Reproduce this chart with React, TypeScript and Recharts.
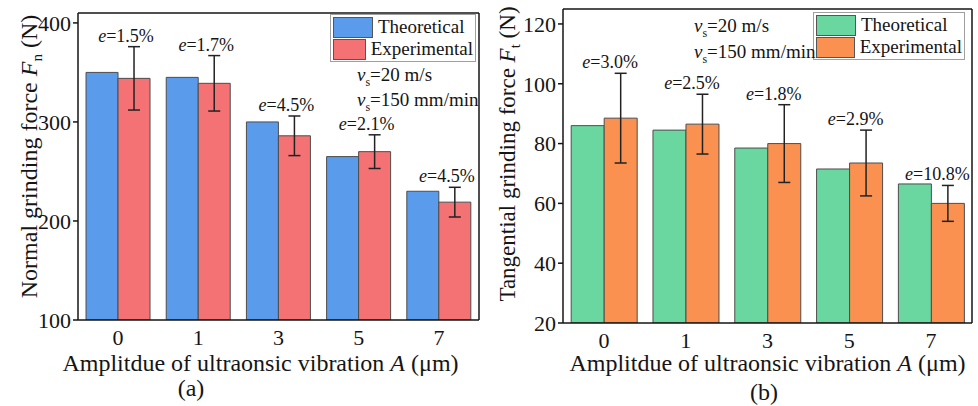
import React from "react";
import {
  BarChart,
  Bar,
  XAxis,
  YAxis,
  ErrorBar,
  LabelList,
  Legend,
  ReferenceLine,
} from "recharts";

const amplitudes = ["0", "1", "3", "5", "7"];
const seriesNames = ["Theoretical", "Experimental"];

// (a) normal grinding force, N
const fnTheory = [350, 345, 300, 265, 230];
const fnExp = [344, 339, 286, 270, 219];
const fnErr = [32, 28, 20, 17, 15];
const fnDev = ["1.5%", "1.7%", "4.5%", "2.1%", "4.5%"];
const fnTicks = [100, 200, 300, 400];

// (b) tangential grinding force, N
const ftTheory = [86, 84.5, 78.5, 71.5, 66.5];
const ftExp = [88.5, 86.5, 80, 73.5, 60];
const ftErr = [15, 10, 13, 11, 6];
const ftDev = ["3.0%", "2.5%", "1.8%", "2.9%", "10.8%"];
const ftTicks = [20, 40, 60, 80, 100, 120];

const SERIF = '"Liberation Serif", "Times New Roman", serif';
const INK = "#151515";

// deviation label sits just above the top of each error bar
const devLabel =
  (dev: string[], err: number[], min: number, dx: number) => (props: any) => {
    const { x, y, height, value, index } = props;
    const pxPerUnit = Math.abs(height) / (value - min);
    const top = y - err[index] * pxPerUnit;
    return (
      <text
        x={x + dx}
        y={top - 5}
        textAnchor="middle"
        fontSize={18}
        fontFamily={SERIF}
        fill={INK}
      >
        <tspan fontStyle="italic">e</tspan>
        <tspan>={dev[index]}</tspan>
      </text>
    );
  };

const BoxLegend = ({ payload }: any) => {
  const items = [...(payload || [])].sort(
    (a: any, b: any) => seriesNames.indexOf(a.value) - seriesNames.indexOf(b.value)
  );
  return (
    <div
      style={{
        border: "1px solid #a0a0a0",
        background: "#fff",
        padding: "1px 2px",
        fontFamily: SERIF,
        fontSize: 19,
        color: INK,
      }}
    >
      {items.map((p: any) => (
        <div
          key={p.value}
          style={{ display: "flex", alignItems: "center", height: 22 }}
        >
          <span
            style={{
              display: "inline-block",
              width: 38,
              height: 19,
              background: p.color,
              border: "1px solid #555",
              marginRight: 5,
            }}
          />
          {p.value}
        </div>
      ))}
    </div>
  );
};

const yTitle =
  (main: string, sub: string, size: number, dx: number, dy: number) =>
  (props: any) => {
    const { viewBox } = props;
    const cx = viewBox.x + dx;
    const cy = viewBox.y + viewBox.height / 2 + dy;
    return (
      <text
        x={cx}
        y={cy}
        transform={`rotate(-90, ${cx}, ${cy})`}
        textAnchor="middle"
        fontSize={size}
        fontFamily={SERIF}
        fill={INK}
      >
        <tspan>{main} </tspan>
        <tspan fontStyle="italic">F</tspan>
        <tspan fontSize={15} dy={5}>
          {sub}
        </tspan>
        <tspan dy={-5}> (N)</tspan>
      </text>
    );
  };

const xTitle = (dx: number, y: number) => (props: any) => {
  const { viewBox } = props;
  const cx = viewBox.x + viewBox.width / 2 + dx;
  return (
    <text
      x={cx}
      y={y}
      textAnchor="middle"
      fontSize={24}
      fontFamily={SERIF}
      fill={INK}
    >
      <tspan>Amplitdue of ultraonsic vibration </tspan>
      <tspan fontStyle="italic">A</tspan>
      <tspan> (μm)</tspan>
    </text>
  );
};

interface PanelProps {
  theory: number[];
  exp: number[];
  err: number[];
  dev: string[];
  ticks: number[];
  domain: [number, number];
  colors: [string, string];
  title: string;
  sub: string;
  titleSize: number;
  width: number;
  margin: { top: number; right: number; bottom: number; left: number };
  yTitleOffset: [number, number];
  xTitleOffset: [number, number];
  labelDx: number;
  legendPos: { left: number; top: number; width: number };
}

function ForcePanel(p: PanelProps) {
  const data = amplitudes.map((a, i) => ({
    amp: a,
    theory: p.theory[i],
    exp: p.exp[i],
    err: p.err[i],
  }));
  const tickStyle = { fontSize: 22, fontFamily: SERIF, fill: INK };
  const axisLine = { stroke: INK, strokeWidth: 1.5 };

  return (
    <BarChart
      width={p.width}
      height={406}
      data={data}
      margin={p.margin}
      barCategoryGap="10%"
      barGap={0}
    >
      <XAxis
        dataKey="amp"
        tickLine={false}
        axisLine={axisLine}
        tick={tickStyle}
        tickSize={0}
        tickMargin={9}
        height={40}
        label={{ content: xTitle(p.xTitleOffset[0], p.xTitleOffset[1]) }}
      />
      <YAxis
        domain={p.domain}
        ticks={p.ticks}
        allowDataOverflow
        width={60}
        tick={tickStyle}
        tickSize={5}
        tickMargin={2}
        tickLine={{ stroke: INK, strokeWidth: 1.5 }}
        axisLine={axisLine}
        label={{
          content: yTitle(
            p.title,
            p.sub,
            p.titleSize,
            p.yTitleOffset[0],
            p.yTitleOffset[1]
          ),
        }}
      />
      <YAxis
        yAxisId="right"
        orientation="right"
        mirror
        domain={p.domain}
        ticks={p.ticks}
        allowDataOverflow
        width={6}
        tick={false}
        tickSize={5}
        tickLine={{ stroke: INK, strokeWidth: 1.5 }}
        axisLine={axisLine}
      />
      <ReferenceLine y={p.domain[1]} stroke={INK} strokeWidth={1.5} />
      <Legend
        layout="vertical"
        align="center"
        verticalAlign="middle"
        wrapperStyle={p.legendPos}
        content={<BoxLegend />}
      />
      <Bar
        dataKey="theory"
        name={seriesNames[0]}
        fill={p.colors[0]}
        stroke="#4d4d4d"
        strokeWidth={1}
        isAnimationActive={false}
      />
      <Bar
        dataKey="exp"
        name={seriesNames[1]}
        fill={p.colors[1]}
        stroke="#4d4d4d"
        strokeWidth={1}
        isAnimationActive={false}
      >
        <ErrorBar
          dataKey="err"
          direction="y"
          width={6}
          stroke="#222"
          strokeWidth={1.5}
          isAnimationActive={false}
        />
        <LabelList
          dataKey="exp"
          content={devLabel(p.dev, p.err, p.domain[0], p.labelDx)}
        />
      </Bar>
    </BarChart>
  );
}

const note: React.CSSProperties = {
  position: "absolute",
  fontFamily: SERIF,
  fontSize: 19,
  lineHeight: "22px",
  color: INK,
  whiteSpace: "nowrap",
};

const Speeds = ({ left, top, gap }: { left: number; top: number; gap: number }) => (
  <>
    <div style={{ ...note, left, top }}>
      <i>v</i>
      <sub style={{ fontSize: 12 }}>s</sub>=20 m/s
    </div>
    <div style={{ ...note, left, top: top + gap }}>
      <i>v</i>
      <sub style={{ fontSize: 12 }}>s</sub>=150 mm/min
    </div>
  </>
);

const caption: React.CSSProperties = {
  position: "absolute",
  fontFamily: SERIF,
  fontSize: 24,
  color: INK,
  transform: "translate(-50%, -50%)",
};

export default function App() {
  return (
    <div
      style={{
        position: "absolute",
        left: 0,
        top: 0,
        width: 978,
        height: 406,
        background: "#fff",
        overflow: "hidden",
      }}
    >
      <div style={{ position: "absolute", left: 0, top: 0 }}>
        <ForcePanel
          theory={fnTheory}
          exp={fnExp}
          err={fnErr}
          dev={fnDev}
          ticks={fnTicks}
          domain={[100, 410]}
          colors={["#5a9bec", "#f47274"]}
          title="Normal grinding force"
          sub="n"
          titleSize={24}
          width={490}
          margin={{ top: 13, right: 11, bottom: 46, left: 18 }}
          yTitleOffset={[19, -10]}
          xTitleOffset={[-18, 371]}
          labelDx={8}
          legendPos={{ left: 330, top: 14, width: 146 }}
        />
        <Speeds left={357} top={64} gap={25} />
        <div style={{ ...caption, left: 191, top: 388 }}>(a)</div>
      </div>
      <div style={{ position: "absolute", left: 490, top: 0 }}>
        <ForcePanel
          theory={ftTheory}
          exp={ftExp}
          err={ftErr}
          dev={ftDev}
          ticks={ftTicks}
          domain={[20, 125]}
          colors={["#6ad7a0", "#fa9150"]}
          title="Tangential grinding force"
          sub="t"
          titleSize={23}
          width={488}
          margin={{ top: 9, right: 6, bottom: 43, left: 13 }}
          yTitleOffset={[12, -12]}
          xTitleOffset={[0, 371]}
          labelDx={6}
          legendPos={{ left: 323, top: 12, width: 152 }}
        />
        <Speeds left={204} top={15} gap={26} />
        <div style={{ ...caption, left: 274, top: 392 }}>(b)</div>
      </div>
    </div>
  );
}
